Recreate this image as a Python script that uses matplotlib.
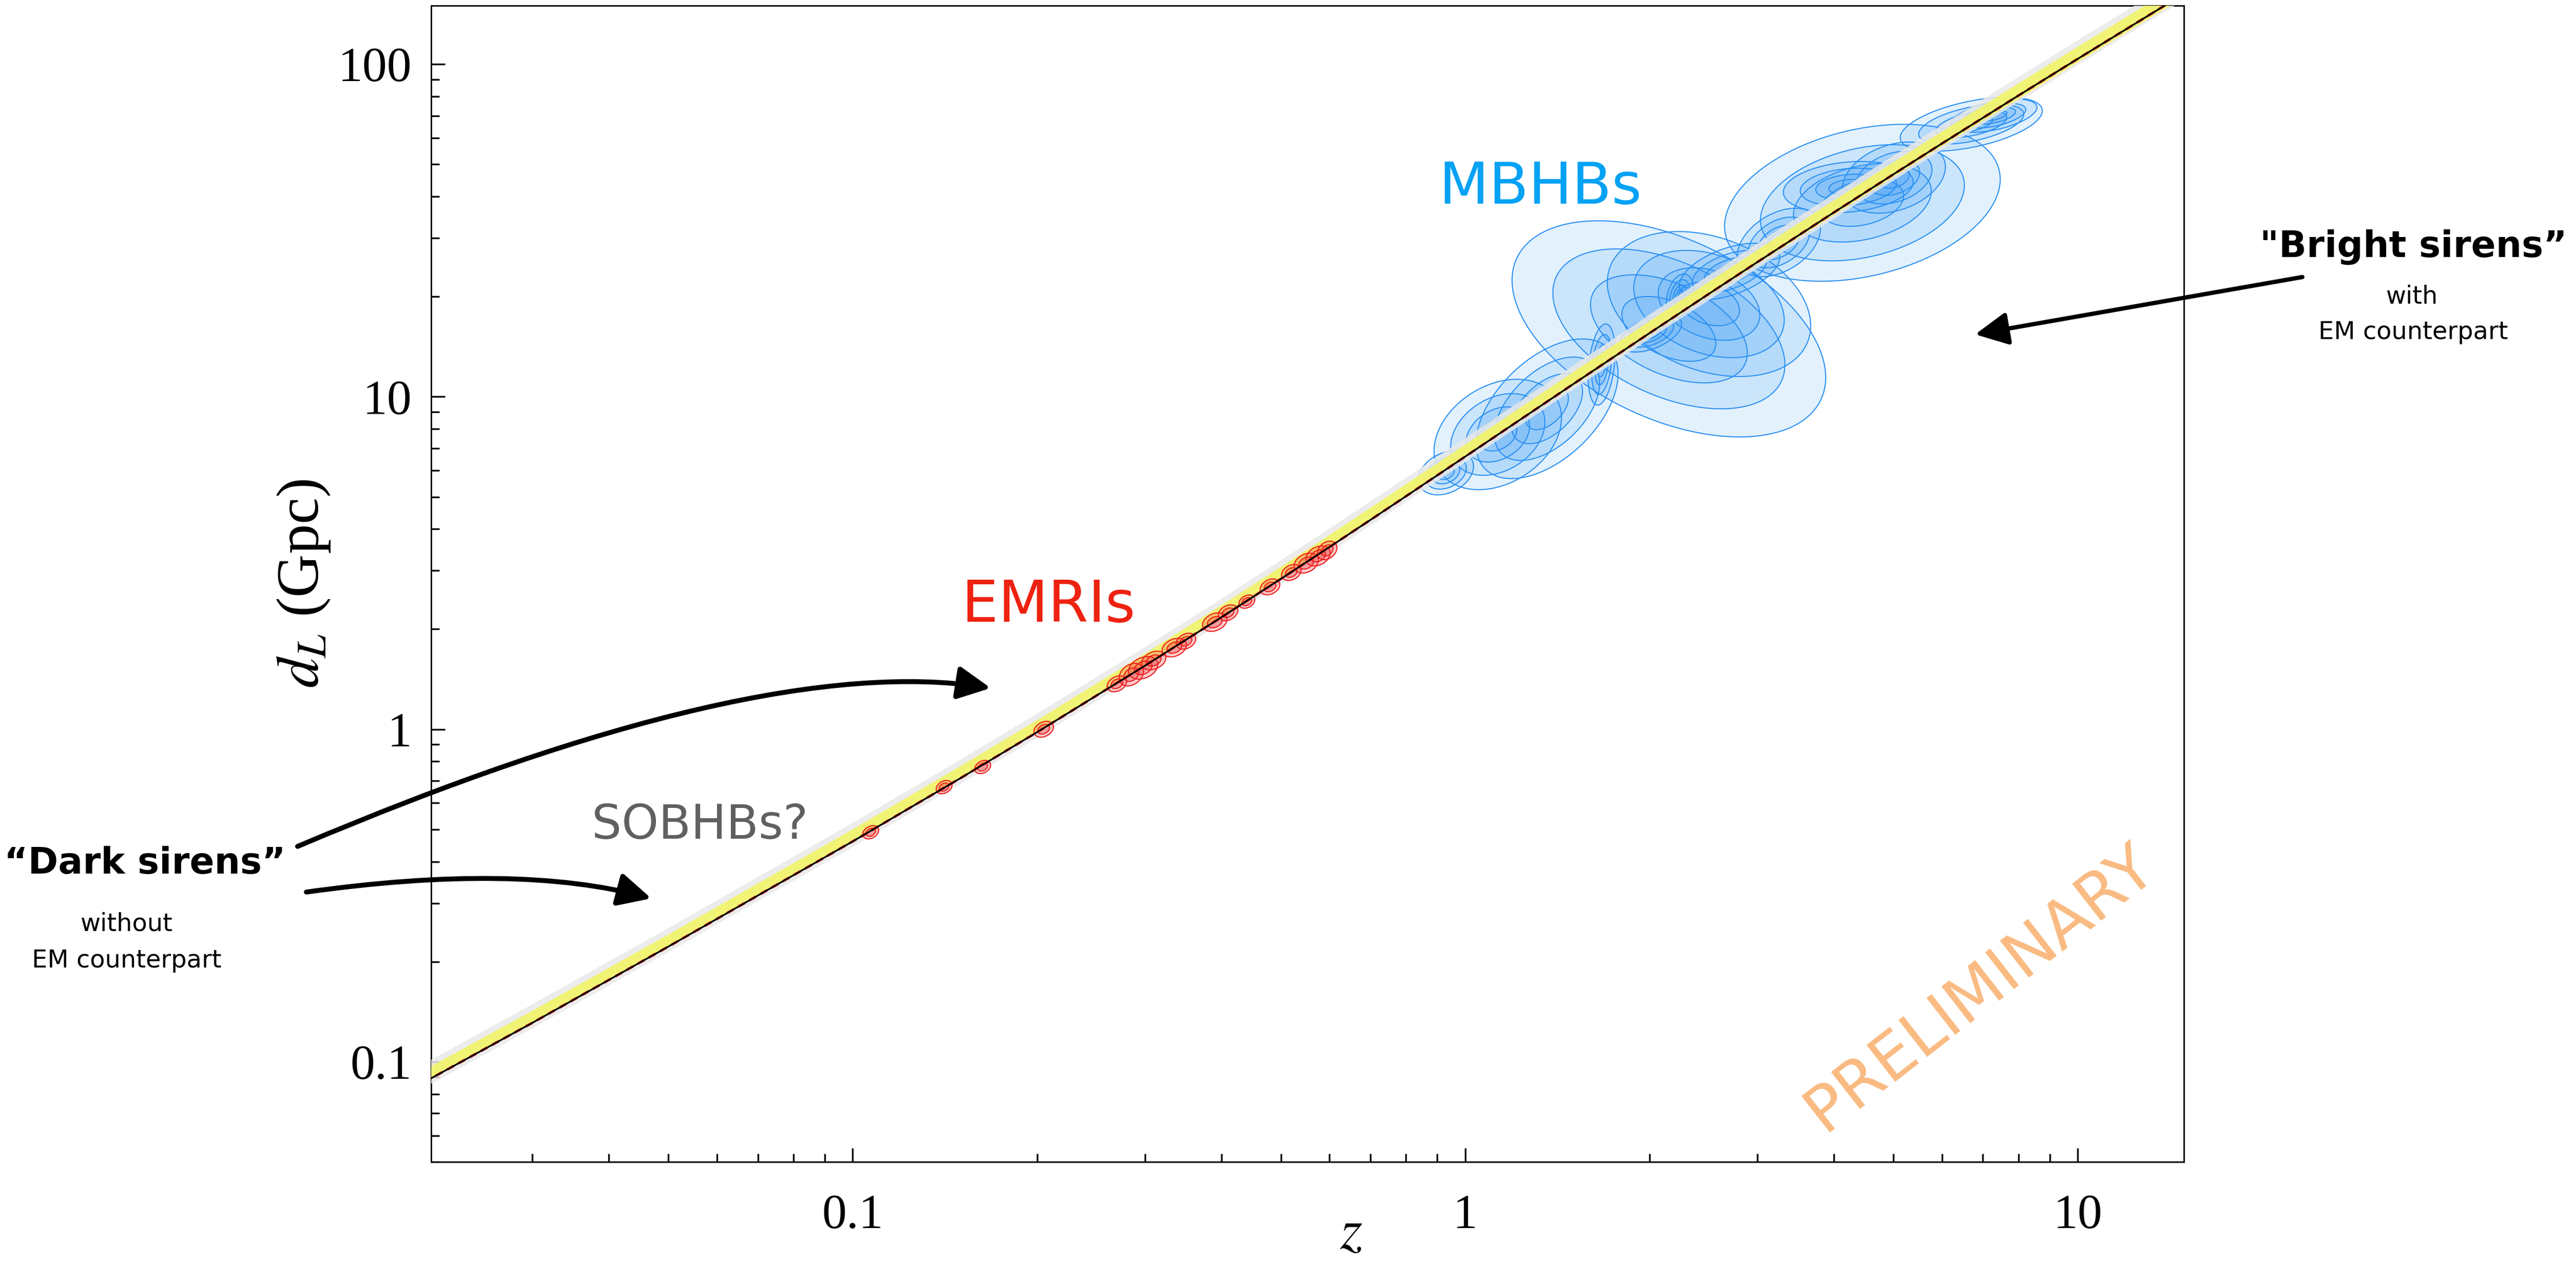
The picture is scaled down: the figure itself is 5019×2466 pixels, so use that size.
import numpy as np
import matplotlib.pyplot as plt
from matplotlib.patches import ArrowStyle

plt.rcParams['font.family'] = ['Liberation Serif', 'DejaVu Serif']
plt.rcParams['mathtext.fontset'] = 'stix'

# luminosity distance curve (Gpc)
z_curve = [0.02, 0.03, 0.05, 0.1, 0.15, 0.2, 0.3, 0.4, 0.5, 0.6, 0.7, 0.8, 1.0,
           1.5, 2.0, 2.5, 3.0, 4.0, 5.0, 6.0, 8.0, 10.0, 14.0, 15.0]
dl_curve = [0.087, 0.131, 0.222, 0.460, 0.713, 0.980, 1.553, 2.172, 2.833, 3.530,
            4.260, 5.018, 6.608, 10.91, 15.54, 20.40, 25.42, 35.85, 46.65, 57.73,
            80.49, 103.8, 151.8, 163.9]

# band edges, as ratio to the curve
yellow_lo = [1.00, 1.00, 1.00, 1.00, 1.00, 1.00, 1.00, 1.00, 1.00, 1.00, 1.00, 1.00,
             1.00, 0.99, 0.99, 0.99, 0.99, 0.985, 0.985, 0.985, 0.98, 0.98, 0.98, 0.98]
yellow_hi = [1.09, 1.09, 1.09, 1.09, 1.09, 1.09, 1.09, 1.09, 1.09, 1.09, 1.09, 1.09,
             1.09, 1.09, 1.09, 1.09, 1.09, 1.09, 1.09, 1.09, 1.09, 1.09, 1.09, 1.09]
grey_lo = [0.965, 0.965, 0.965, 0.965, 0.965, 0.965, 0.965, 0.965, 0.965, 0.965, 0.965,
           0.965, 0.965, 0.965, 0.965, 0.96, 0.96, 0.96, 0.96, 0.96, 0.96, 0.96, 0.96, 0.96]
grey_hi = [1.14, 1.14, 1.14, 1.14, 1.14, 1.14, 1.14, 1.14, 1.14, 1.14, 1.14, 1.14,
           1.14, 1.14, 1.14, 1.14, 1.14, 1.14, 1.14, 1.14, 1.14, 1.14, 1.14, 1.14]

# MBHB posteriors: centre (z, dL), half widths in dex, tilt
mbhb_z = [0.93, 1.13, 1.36, 1.67, 2.15, 2.50, 2.01, 2.24, 2.70, 3.25, 4.45, 4.22, 5.01, 6.7, 7.3]
mbhb_dl = [5.9, 7.7, 9.2, 12.5, 16.0, 19.0, 15.5, 20.1, 23.8, 29.1, 38.3, 42.7, 45.6, 66.0, 70.0]
mbhb_wz = [0.045, 0.104, 0.116, 0.022, 0.256, 0.166, 0.050, 0.022, 0.082, 0.068, 0.225,
           0.106, 0.084, 0.116, 0.07]
mbhb_wdl = [0.066, 0.166, 0.21, 0.122, 0.325, 0.218, 0.056, 0.066, 0.085, 0.103, 0.236,
            0.077, 0.107, 0.081, 0.05]
mbhb_rho = [0.3, 0.3, 0.5, 0.3, -0.45, -0.3, 0.5, 0.3, 0.5, 0.4, 0.3, 0.2, 0.3, 0.5, 0.5]

# EMRI posteriors
emri_z = [0.107, 0.141, 0.163, 0.205, 0.27, 0.285, 0.298, 0.31, 0.335, 0.35, 0.39, 0.41,
          0.44, 0.48, 0.52, 0.55, 0.575, 0.595]
emri_dl = [0.49, 0.67, 0.77, 1.00, 1.37, 1.46, 1.53, 1.61, 1.76, 1.84, 2.10, 2.24,
           2.42, 2.68, 2.96, 3.16, 3.32, 3.45]
emri_wz = [0.013, 0.013, 0.013, 0.016, 0.016, 0.020, 0.024, 0.020, 0.020, 0.016, 0.020,
           0.016, 0.013, 0.016, 0.016, 0.020, 0.020, 0.016]
emri_wdl = [0.020, 0.020, 0.020, 0.024, 0.024, 0.034, 0.034, 0.028, 0.028, 0.024, 0.028,
            0.024, 0.020, 0.024, 0.024, 0.030, 0.030, 0.028]

levels = [1.0, 0.74, 0.5, 0.3]


def blob(ax, zc, dc, a, b, rho, s, **kw):
    t = np.linspace(0, 2 * np.pi, 160)
    lz = np.log10(zc) + s * a * np.cos(t)
    ld = np.log10(dc) + s * b * (rho * np.cos(t) + np.sqrt(1 - rho**2) * np.sin(t))
    ax.fill(10**lz, 10**ld, **kw)


fig = plt.figure(figsize=(16.7333, 8.22), dpi=300)
ax = fig.add_axes([0.16733, 0.08151, 0.68028, 0.91403])
ax.set_xscale('log')
ax.set_yscale('log')
ax.set_xlim(0.0205, 14.9)
ax.set_ylim(0.05, 150)

z = np.array(z_curve)
dl = np.array(dl_curve)

for i in range(len(mbhb_z)):
    for s in levels:
        blob(ax, mbhb_z[i], mbhb_dl[i], mbhb_wz[i], mbhb_wdl[i], mbhb_rho[i], s,
             facecolor='#3d9cf5', alpha=0.14, edgecolor='none', zorder=2)
        blob(ax, mbhb_z[i], mbhb_dl[i], mbhb_wz[i], mbhb_wdl[i], mbhb_rho[i], s,
             facecolor='none', edgecolor='#2a90f2', lw=0.5, zorder=2.1)

ax.fill_between(z, dl * np.array(grey_lo), dl * np.array(grey_hi),
                color='#e9e9e9', alpha=0.85, lw=0, zorder=3)
ax.fill_between(z, dl * np.array(yellow_lo), dl * np.array(yellow_hi),
                color='#f2f46a', alpha=0.92, lw=0, zorder=3.5)

for i in range(len(emri_z)):
    for s in [1.0, 0.6]:
        blob(ax, emri_z[i], emri_dl[i], emri_wz[i], emri_wdl[i], 0.3, s,
             facecolor='#f24a4a', alpha=0.28, edgecolor='none', zorder=4)
        blob(ax, emri_z[i], emri_dl[i], emri_wz[i], emri_wdl[i], 0.3, s,
             facecolor='none', edgecolor='#ee1c1c', lw=0.5, zorder=4.1)

ax.plot(z, dl, color='#e8201a', lw=1.2, ls=(0, (3, 2)), zorder=4.5)
ax.plot(z, dl, color='black', lw=0.8, zorder=5)

ax.set_xticks([0.1, 1, 10], ['0.1', '1', '10'])
ax.set_yticks([0.1, 1, 10, 100], ['0.1', '1', '10', '100'])
ax.tick_params(which='both', direction='in', top=False, right=False, width=0.8)
ax.tick_params(which='major', length=6.5, labelsize=23)
ax.tick_params(which='minor', length=3.8)
ax.tick_params(axis='y', pad=9)
ax.tick_params(axis='x', pad=15)
for sp in ax.spines.values():
    sp.set_linewidth(0.7)

ax.set_xlabel('$z$', fontsize=27, va='center')
ax.set_ylabel('$d_L$ (Gpc)', fontsize=28, va='center')
ax.xaxis.set_label_coords(0.5248, -0.063)
ax.yaxis.set_label_coords(-0.0726, 0.50)

# labels
fig.text(0.5978, 0.8390, 'MBHBs', color='#03a2f5', fontsize=27, family='DejaVu Sans',
         ha='center', va='baseline')
fig.text(0.4070, 0.5085, 'EMRIs', color='#ee2211', fontsize=27, family='DejaVu Sans',
         ha='center', va='baseline')
fig.text(0.2717, 0.3370, 'SOBHBs?', color='#606060', fontsize=22, family='DejaVu Sans',
         ha='center', va='baseline')
fig.text(0.7685, 0.2190, 'PRELIMINARY', color='#f9bb82', fontsize=30, family='DejaVu Sans',
         rotation=38, rotation_mode='anchor', ha='center', va='center')

fig.text(0.0562, 0.3094, '\u201cDark sirens\u201d', fontsize=17, family='DejaVu Sans',
         weight='bold', ha='center', va='baseline')
fig.text(0.0492, 0.2640, 'without', fontsize=11.5, family='DejaVu Sans', ha='center',
         va='baseline')
fig.text(0.0492, 0.2352, 'EM counterpart', fontsize=11.5, family='DejaVu Sans',
         ha='center', va='baseline')
fig.text(0.9367, 0.7972, '"Bright sirens\u201d', fontsize=17, family='DejaVu Sans',
         weight='bold', ha='center', va='baseline')
fig.text(0.9363, 0.7599, 'with', fontsize=11.5, family='DejaVu Sans', ha='center',
         va='baseline')
fig.text(0.9367, 0.7320, 'EM counterpart', fontsize=11.5, family='DejaVu Sans',
         ha='center', va='baseline')

# arrows
head = ArrowStyle('-|>', head_length=13, head_width=6.5)
ax.annotate('', xy=(0.168, 1.33), xycoords='data', xytext=(0.1155, 0.3309),
            textcoords='figure fraction', annotation_clip=False,
            arrowprops=dict(arrowstyle=head, mutation_scale=1, lw=2.3, color='black',
                            shrinkA=0, shrinkB=0,
                            connectionstyle='angle3,angleA=23,angleB=-9'))
ax.annotate('', xy=(0.0469, 0.31), xycoords='data', xytext=(0.1189, 0.2948),
            textcoords='figure fraction', annotation_clip=False,
            arrowprops=dict(arrowstyle=head, mutation_scale=1, lw=2.3, color='black',
                            shrinkA=0, shrinkB=0,
                            connectionstyle='angle3,angleA=8,angleB=-15'))
ax.annotate('', xy=(6.8, 15.4), xycoords='data', xytext=(0.8936, 0.7810),
            textcoords='figure fraction', annotation_clip=False,
            arrowprops=dict(arrowstyle=head, mutation_scale=1, lw=2.0, color='black',
                            shrinkA=0, shrinkB=0, connectionstyle='arc3,rad=0.0'))

fig.savefig('out.png', dpi=300)
